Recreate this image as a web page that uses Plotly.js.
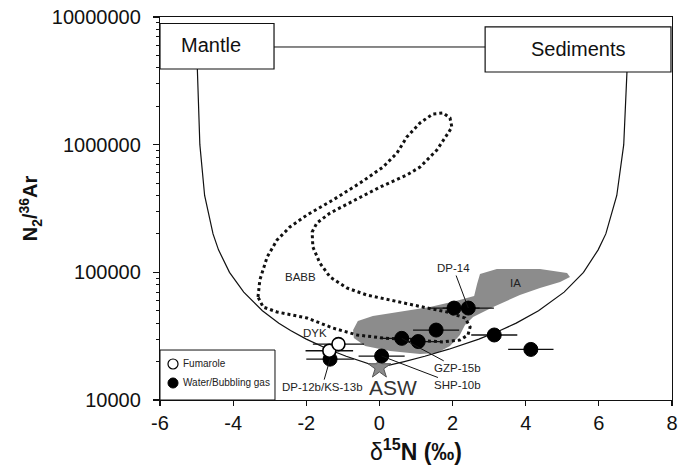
<!DOCTYPE html>
<html><head><meta charset="utf-8">
<script src="https://cdn.plot.ly/plotly-3.0.1.min.js"></script>
<style>html,body{margin:0;padding:0;background:#fff}#chart{width:692px;height:476px}</style>
</head><body><div id="chart"></div>
<script>
// ---- Data ----
// Water / bubbling gas samples (filled circles)
const waterD15N = [2.04, 2.43, 1.55, 3.14, 4.14, 0.61, 1.06, 0.06, -1.35];
const waterN2Ar = [52500, 52500, 35300, 32300, 24900, 30400, 28700, 22100, 20900];
const waterErr  = [0.7, 0.7, 0.63, 0.63, 0.62, 0.6, 0.6, 0.63, 0.65];
// Fumarole samples (open circles)
const fumD15N = [-1.37, -1.12];
const fumN2Ar = [24300, 27400];
const fumErr  = [0.65, 0.7];
// Air-saturated water
const aswD15N = [0];
const aswN2Ar = [18000];
// Mixing curve Mantle - ASW - Sediments
const curveD15N = [-4.98, -4.91, -4.78, -4.55, -4.4, -4.1, -3.71, -3.2, -2.75, -2.43, -2.0, -1.4, -0.91, -0.5, -0.26, -0.14, 0,
                   0.18, 0.36, 0.68, 1.24, 1.9, 2.72, 3.3, 3.74, 4.35, 5.05, 5.58, 5.98, 6.19, 6.49, 6.68, 6.77];
const curveN2Ar = [4.0e6, 1.0e6, 4.0e5, 2.0e5, 1.5e5, 1.0e5, 7.0e4, 5.0e4, 4.0e4, 3.5e4, 3.0e4, 2.5e4, 2.2e4, 2.0e4, 1.9e4, 1.85e4, 1.8e4,
                   1.85e4, 1.9e4, 2.0e4, 2.2e4, 2.5e4, 3.0e4, 3.5e4, 4.0e4, 5.0e4, 7.0e4, 1.0e5, 1.5e5, 2.0e5, 4.0e5, 1.0e6, 3.8e6];
// BABB field outline (dotted)
const babbD15N = [-3.32, -3.27, -3.07, -2.80, -2.45, -1.98, -1.27, -0.53, 0.10, 0.48, 0.75, 1.11, 1.46, 1.74, 1.93, 1.98, 1.88, 1.57,
                  1.11, 0.75, 0.02, -0.80, -1.35, -1.71, -1.84, -1.82, -1.63, -1.35, -0.89, -0.34, 0.02, 0.56, 1.30, 1.85, 2.34,
                  2.48, 2.42, 2.20, 1.74, 0.92, 0.10, -0.61, -1.27, -1.98, -2.80, -3.18, -3.32];
const babbN2Ar = [64100, 87100, 131800, 179100, 226500, 281200, 368600, 500800, 668000, 860600, 1148000, 1479000, 1739000, 1771000,
                  1618000, 1374000, 1233000, 907800, 668000, 578300, 466100, 349200, 291600, 243400, 206900, 157900, 118300, 91900,
                  75400, 66400, 62900, 58600, 52600, 48900, 43900, 37300, 32300, 29500, 28500, 29500, 30600, 32300, 36600, 43900,
                  48900, 53500, 64100];
// IA field (grey)
const iaD15N = [-0.72, -0.59, -0.18, 0.56, 1.38, 2.09, 2.59, 2.67, 2.75, 3.21, 4.39, 5.13, 5.21, 4.94, 4.39, 3.84, 3.11, 2.56,
                2.34, 2.20, 1.93, 1.57, 1.11, 0.29, -0.39, -0.70, -0.72];
const iaN2Ar = [35300, 41600, 45500, 48900, 53500, 59600, 65300, 81100, 97000, 106200, 106200, 98800, 91900, 84000, 75400, 66400,
                53500, 44700, 38700, 32300, 26500, 23300, 22900, 24200, 26500, 30600, 35300];
// Axis ticks
const yTickVals = [1e4, 1e5, 1e6, 1e7];
const yTickText = ['10000', '100000', '1000000', '10000000'];
const yMinorVals = [2e4,3e4,4e4,5e4,6e4,7e4,8e4,9e4,2e5,3e5,4e5,5e5,6e5,7e5,8e5,9e5,2e6,3e6,4e6,5e6,6e6,7e6,8e6,9e6];
const xTickVals = [-6, -4, -2, 0, 2, 4, 6, 8];

const FONT = 'Liberation Sans, Arial, Helvetica, sans-serif';
const INK = '#111';

const traces = [
  { x: iaD15N, y: iaN2Ar, mode: 'lines', fill: 'toself', fillcolor: '#8c8c8c',
    line: { width: 0, color: '#8c8c8c' }, hoverinfo: 'skip', showlegend: false, name: 'IA' },
  { x: babbD15N, y: babbN2Ar, mode: 'lines', line: { color: INK, width: 3, dash: '3px,3px' },
    hoverinfo: 'skip', showlegend: false, name: 'BABB' },
  { x: curveD15N, y: curveN2Ar, mode: 'lines', line: { color: INK, width: 1.2 },
    hoverinfo: 'skip', showlegend: false, name: 'Mixing' },
  { x: aswD15N, y: aswN2Ar, mode: 'markers', name: 'ASW', showlegend: false,
    marker: { symbol: 'star', size: 17, color: '#8a8a8a', line: { color: '#555', width: 1 } } },
  { x: waterD15N, y: waterN2Ar, mode: 'markers', name: 'Water/Bubbling gas', showlegend: false,
    error_x: { type: 'data', array: waterErr, color: INK, thickness: 1.3, width: 0 },
    marker: { symbol: 'circle', size: 14, color: '#000', line: { color: '#000', width: 1 } } },
  { x: fumD15N, y: fumN2Ar, mode: 'markers', name: 'Fumarole', showlegend: false,
    error_x: { type: 'data', array: fumErr, color: INK, thickness: 1.3, width: 0 },
    marker: { symbol: 'circle', size: 13, color: '#fff', line: { color: '#000', width: 1.6 } } }
];

const lg = v => Math.log10(v);
const smallFont = { family: FONT, size: 11.5, color: '#222' };

const annotations = [
  { xref: 'paper', yref: 'paper', x: 0.0996, y: 0.927, xanchor: 'center', yanchor: 'middle',
    text: 'Mantle', showarrow: false, font: { family: FONT, size: 20, color: INK } },
  { xref: 'paper', yref: 'paper', x: 0.818, y: 0.9157, xanchor: 'center', yanchor: 'middle',
    text: 'Sediments', showarrow: false, font: { family: FONT, size: 20, color: INK } },
  { x: -2.17, y: 4.963, text: 'BABB', showarrow: false, font: smallFont },
  { x: 3.71, y: 4.916, text: 'IA', showarrow: false, font: smallFont },
  { x: -1.76, y: 4.525, text: 'DYK', showarrow: false, font: smallFont },
  { x: 0.37, y: 4.10, text: 'ASW', showarrow: false, font: { family: FONT, size: 21, color: '#333' } },
  { x: waterD15N[1], y: lg(waterN2Ar[1]), text: 'DP-14', showarrow: true, arrowhead: 0, arrowwidth: 1,
    arrowcolor: INK, ax: -15, ay: -40, standoff: 0, font: smallFont },
  { x: waterD15N[5], y: lg(waterN2Ar[5]), text: 'GZP-15b', showarrow: true, arrowhead: 0, arrowwidth: 1,
    arrowcolor: INK, ax: 56, ay: 30, standoff: 0, font: smallFont },
  { x: waterD15N[7], y: lg(waterN2Ar[7]), text: 'SHP-10b', showarrow: true, arrowhead: 0, arrowwidth: 1,
    arrowcolor: INK, ax: 76, ay: 29, standoff: 0, font: smallFont },
  { x: waterD15N[8], y: lg(waterN2Ar[8]), text: 'DP-12b/KS-13b', showarrow: true, arrowhead: 0, arrowwidth: 1,
    arrowcolor: INK, ax: -8, ay: 28, standoff: 0, font: smallFont },
  // legend texts
  { xref: 'paper', yref: 'paper', x: 0.041, y: 0.094, xanchor: 'left', yanchor: 'middle', text: 'Fumarole',
    showarrow: false, font: { family: FONT, size: 10, color: '#222' } },
  { xref: 'paper', yref: 'paper', x: 0.041, y: 0.0444, xanchor: 'left', yanchor: 'middle', text: 'Water/Bubbling gas',
    showarrow: false, font: { family: FONT, size: 10, color: '#222' } }
];

const shapes = [
  { type: 'rect', xref: 'paper', yref: 'paper', x0: 0, x1: 0.2227, y0: 0.8642, y1: 0.983,
    line: { color: INK, width: 1.2 }, fillcolor: '#fff' },
  { type: 'rect', xref: 'paper', yref: 'paper', x0: 0.635, x1: 0.998, y0: 0.8564, y1: 0.974,
    line: { color: INK, width: 1.2 }, fillcolor: '#fff' },
  { type: 'line', xref: 'paper', yref: 'paper', x0: 0.2227, x1: 0.635, y0: 0.9217, y1: 0.9217,
    line: { color: INK, width: 1 } },
  // legend box
  { type: 'rect', xref: 'paper', yref: 'paper', x0: 0, x1: 0.2246, y0: 0, y1: 0.1305,
    line: { color: INK, width: 1 }, fillcolor: '#fff' },
  { type: 'circle', xref: 'paper', yref: 'paper', x0: 0.0254 - 0.0098, x1: 0.0254 + 0.0098,
    y0: 0.094 - 0.0131, y1: 0.094 + 0.0131, line: { color: '#000', width: 1.2 }, fillcolor: '#fff' },
  { type: 'circle', xref: 'paper', yref: 'paper', x0: 0.0254 - 0.0098, x1: 0.0254 + 0.0098,
    y0: 0.0444 - 0.0131, y1: 0.0444 + 0.0131, line: { color: '#000', width: 1 }, fillcolor: '#000' }
];

const layout = {
  width: 692, height: 476,
  margin: { l: 160, r: 20, t: 17, b: 76 },
  paper_bgcolor: '#fff', plot_bgcolor: '#fff',
  font: { family: FONT, color: INK },
  showlegend: false,
  xaxis: {
    range: [-6, 8], tickmode: 'array', tickvals: xTickVals, ticktext: xTickVals.map(String),
    showgrid: false, zeroline: false, showline: true, linecolor: INK, linewidth: 1.2, mirror: true,
    ticks: 'outside', ticklen: 5, tickcolor: INK, tickwidth: 1.2,
    tickfont: { family: FONT, size: 20, color: INK },
    title: { text: 'δ<sup><b>15</b></sup><b>N (‰)</b>', font: { family: FONT, size: 23, color: INK }, standoff: 10 }
  },
  yaxis: {
    type: 'log', range: [4, 7], tickmode: 'array', tickvals: yTickVals, ticktext: yTickText,
    showgrid: false, zeroline: false, showline: true, linecolor: INK, linewidth: 1.2, mirror: true,
    ticks: 'outside', ticklen: 6, tickcolor: INK, tickwidth: 1.2, ticklabelstandoff: 8,
    minor: { tickmode: 'array', tickvals: yMinorVals, ticks: 'outside', ticklen: 3, tickcolor: INK, tickwidth: 1, showgrid: false },
    tickfont: { family: FONT, size: 20, color: INK },
    title: { text: '<b>N<sub>2</sub>/<sup>36</sup>Ar</b>', font: { family: FONT, size: 20, color: INK }, standoff: 8 }
  },
  annotations: annotations,
  shapes: shapes
};

Plotly.newPlot('chart', traces, layout, { displayModeBar: false, staticPlot: true });
</script>
</body></html>
